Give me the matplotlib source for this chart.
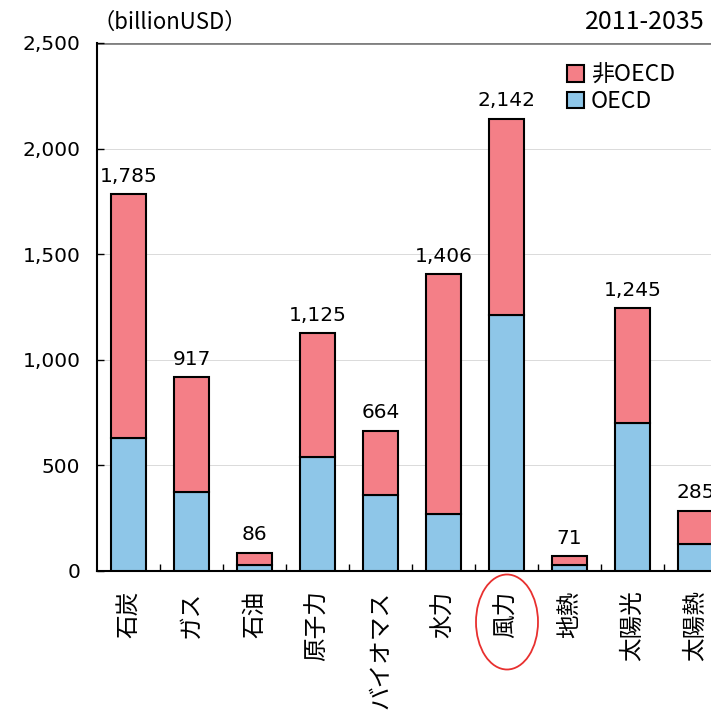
import numpy as np
import matplotlib.pyplot as plt
from matplotlib.patches import Ellipse

plt.rcParams['font.family'] = ['Noto Sans CJK JP', 'DejaVu Sans']

categories = ['石炭', 'ガス', '石油', '原子力', 'バイオマス', '水力', '風力', '地熱', '太陽光', '太陽熱']
totals = [1785, 917, 86, 1125, 664, 1406, 2142, 71, 1245, 285]
oecd = [632, 374, 28, 540, 360, 270, 1212, 28, 700, 128]
non_oecd = [t - o for t, o in zip(totals, oecd)]
yticks = [0, 500, 1000, 1500, 2000, 2500]

pink = '#F47F87'
blue = '#8EC6E8'
numfont = ['DejaVu Sans']

fig = plt.figure(figsize=(7.11, 7.10), dpi=100)
ax = fig.add_axes([97/711, 139/710, 630/711, 528/710])

x = np.arange(len(categories))
ax.bar(x, oecd, width=0.56, color=blue, edgecolor='black', linewidth=1.5,
       label='OECD', zorder=3)
ax.bar(x, non_oecd, width=0.56, bottom=oecd, color=pink, edgecolor='black',
       linewidth=1.5, label='非OECD', zorder=3)

for xi, t in zip(x, totals):
    ax.text(xi, t + 40, f'{t:,}', ha='center', va='bottom', fontsize=14.5,
            family=numfont, zorder=4, clip_on=False)

ax.set_xlim(-0.5, 9.5)
ax.set_ylim(0, 2500)
ax.set_yticks(yticks)
ax.set_yticklabels([f'{v:,}' for v in yticks], fontsize=14.5, family=numfont)
ax.yaxis.grid(True, color='#CCCCCC', linewidth=0.5, zorder=0)
grid = ax.get_ygridlines()
grid[-1].set_color('#808080')
grid[-1].set_linewidth(2.0)
ax.tick_params(axis='y', direction='in', length=5, width=1, pad=12)

ax.set_xticks(x)
ax.set_xticklabels(categories, rotation=90, fontsize=17, va='top')
ax.tick_params(axis='x', which='major', length=0, pad=14)
ax.set_xticks(x[:-1] + 0.5, minor=True)
ax.tick_params(axis='x', which='minor', direction='in', length=5, width=1)

for s in ['top', 'right']:
    ax.spines[s].set_visible(False)
for s in ['left', 'bottom']:
    ax.spines[s].set_linewidth(1.5)
    ax.spines[s].set_color('black')

handles, labels = ax.get_legend_handles_labels()
leg = ax.legend(handles[::-1], labels[::-1], loc='upper right',
                bbox_to_anchor=(0.95, 1.0), frameon=False, fontsize=16.5,
                handlelength=0.75, handleheight=0.75, handletextpad=0.3,
                labelspacing=0.15)

fig.text(92/711, 1 - 22/710, '（billionUSD）', fontsize=16, ha='left', va='center')
fig.text(705/711, 1 - 22/710, '2011-2035', fontsize=18, ha='right', va='center')

ell = Ellipse((507/711, 1 - 622/710), 62/711, 95/710, transform=fig.transFigure,
              fill=False, edgecolor='#E8302F', linewidth=1.3)
fig.patches.append(ell)

fig.savefig('out.png', dpi=100)
